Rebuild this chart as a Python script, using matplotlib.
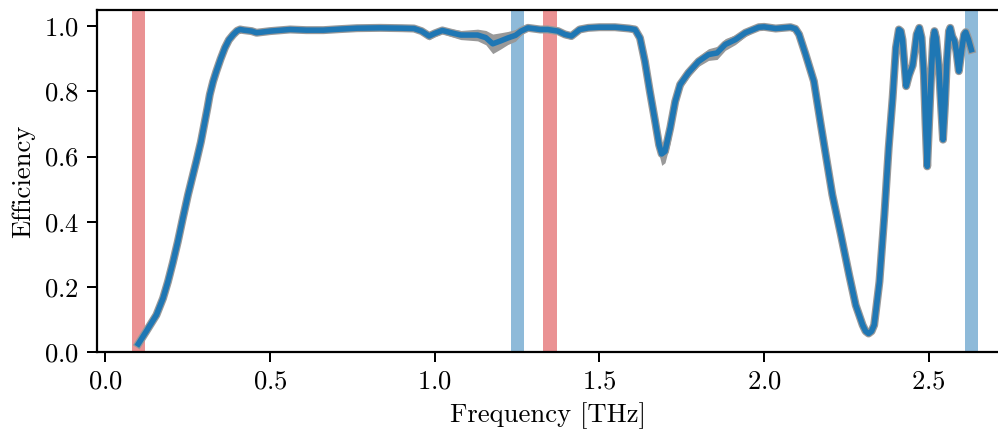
import numpy as np
from matplotlib import pyplot as plt

plt.rcParams["font.family"] = "serif"
plt.rcParams["font.serif"] = ["cmr10", "DejaVu Serif"]
plt.rcParams["mathtext.fontset"] = "cm"
plt.rcParams["axes.formatter.use_mathtext"] = True
plt.rcParams["font.size"] = 12

# frequency [THz], efficiency and half-width of the grey measurement spread,
# read off the reference, in four stretches
freq = [0.100, 0.125, 0.155, 0.175, 0.190, 0.205, 0.220, 0.235, 0.251, 0.265,
        0.276, 0.290, 0.302, 0.310, 0.317, 0.327, 0.337, 0.350, 0.363, 0.375,
        0.388, 0.400, 0.409, 0.420, 0.444, 0.459,
        0.500, 0.561, 0.610, 0.662, 0.710, 0.764, 0.835, 0.900, 0.937, 0.960,
        0.983, 1.000, 1.023, 1.050, 1.079, 1.105, 1.130, 1.155, 1.176, 1.200,
        1.222, 1.245, 1.262, 1.283, 1.320, 1.343, 1.374, 1.395, 1.415, 1.440,
        1.466,
        1.500, 1.547, 1.590, 1.608, 1.623, 1.638, 1.653, 1.669, 1.681, 1.689,
        1.699, 1.715, 1.730, 1.745, 1.770, 1.801, 1.831, 1.857, 1.882, 1.913,
        1.943, 1.984, 2.000, 2.035, 2.080, 2.095, 2.106, 2.126, 2.151, 2.172,
        2.187, 2.207, 2.233, 2.258, 2.278, 2.299, 2.308, 2.317, 2.326, 2.334,
        2.350, 2.365, 2.378, 2.390, 2.400,
        2.409, 2.415, 2.420, 2.426, 2.431, 2.440, 2.451, 2.456, 2.463, 2.471,
        2.478, 2.485, 2.490, 2.495, 2.500, 2.507, 2.513, 2.517, 2.522, 2.530,
        2.537, 2.543, 2.549, 2.555, 2.561, 2.565, 2.571, 2.578, 2.584, 2.591,
        2.600, 2.607, 2.612, 2.620, 2.629]
eff = [0.025, 0.065, 0.114, 0.165, 0.216, 0.275, 0.339, 0.410, 0.483, 0.540,
       0.585, 0.645, 0.708, 0.750, 0.790, 0.830, 0.862, 0.900, 0.934, 0.958,
       0.974, 0.986, 0.990, 0.988, 0.985, 0.980,
       0.985, 0.990, 0.988, 0.988, 0.991, 0.994, 0.995, 0.994, 0.993, 0.985,
       0.970, 0.978, 0.987, 0.980, 0.973, 0.973, 0.973, 0.965, 0.946, 0.955,
       0.964, 0.972, 0.985, 0.995, 0.990, 0.990, 0.985, 0.975, 0.970, 0.990,
       0.995,
       0.997, 0.997, 0.993, 0.990, 0.964, 0.892, 0.800, 0.708, 0.636, 0.608,
       0.616, 0.688, 0.769, 0.821, 0.857, 0.892, 0.913, 0.918, 0.944, 0.959,
       0.980, 0.997, 0.998, 0.993, 0.997, 0.992, 0.975, 0.913, 0.831, 0.698,
       0.606, 0.483, 0.360, 0.237, 0.144, 0.083, 0.064, 0.057, 0.064, 0.083,
       0.216, 0.421, 0.626, 0.780, 0.934,
       0.990, 0.985, 0.959, 0.880, 0.816, 0.850, 0.880, 0.918, 0.975, 0.995,
       0.965, 0.850, 0.700, 0.570, 0.690, 0.850, 0.960, 0.985, 0.965, 0.880,
       0.760, 0.652, 0.760, 0.900, 0.985, 0.995, 0.969, 0.955, 0.920, 0.862,
       0.930, 0.975, 0.982, 0.960, 0.928]
spread = [0.004, 0.006, 0.010, 0.012, 0.015, 0.018, 0.022, 0.028, 0.030, 0.028,
          0.025, 0.022, 0.020, 0.018, 0.016, 0.015, 0.014, 0.012, 0.010, 0.008,
          0.007, 0.006, 0.006, 0.006, 0.007, 0.008,
          0.006, 0.005, 0.005, 0.005, 0.004, 0.004, 0.004, 0.005, 0.006, 0.008,
          0.012, 0.010, 0.010, 0.012, 0.014, 0.016, 0.018, 0.022, 0.030, 0.025,
          0.020, 0.018, 0.012, 0.006, 0.006, 0.006, 0.008, 0.010, 0.010, 0.006,
          0.004,
          0.004, 0.004, 0.004, 0.005, 0.008, 0.012, 0.018, 0.025, 0.030, 0.035,
          0.035, 0.045, 0.030, 0.018, 0.015, 0.015, 0.018, 0.020, 0.018, 0.015,
          0.012, 0.006, 0.004, 0.004, 0.004, 0.005, 0.006, 0.010, 0.015, 0.020,
          0.020, 0.018, 0.015, 0.015, 0.012, 0.010, 0.008, 0.008, 0.008, 0.008,
          0.008, 0.008, 0.008, 0.008, 0.006,
          0.005, 0.005, 0.005, 0.005, 0.005, 0.005, 0.005, 0.005, 0.005, 0.005,
          0.005, 0.005, 0.005, 0.005, 0.005, 0.005, 0.005, 0.005, 0.005, 0.005,
          0.005, 0.005, 0.005, 0.005, 0.005, 0.005, 0.005, 0.005, 0.005, 0.005,
          0.005, 0.005, 0.005, 0.005, 0.005]

red_bands = [0.10, 1.35]
blue_bands = [1.25, 2.63]
band_halfwidth = 0.02

freq = np.array(freq)
eff = np.array(eff)
spread = np.array(spread)

fig = plt.figure(figsize=(998 / 160, 432 / 160), dpi=160)
ax = fig.add_axes([0.097, 0.185, 0.905, 0.792])

for c in red_bands:
    ax.axvspan(c - band_halfwidth, c + band_halfwidth, color="tab:red", alpha=0.5, lw=0)
for c in blue_bands:
    ax.axvspan(c - band_halfwidth, c + band_halfwidth, color="tab:blue", alpha=0.5, lw=0)

ax.fill_between(freq, eff - spread, eff + spread, color="0.6", lw=0)
ax.plot(freq, eff, color="0.6", lw=3.6)
ax.plot(freq, eff, color="tab:blue", lw=2.5)

ax.set_xlim(-0.026, 2.716)
ax.set_ylim(0, 1.05)
ax.set_xticks([0.0, 0.5, 1.0, 1.5, 2.0, 2.5])
ax.set_yticks([0.0, 0.2, 0.4, 0.6, 0.8, 1.0])
ax.spines["right"].set_visible(False)
ax.tick_params(width=0.9, length=4.5)
for s in ["left", "bottom", "top"]:
    ax.spines[s].set_linewidth(1.0)

ax.set_xlabel("Frequency [THz]")
ax.set_ylabel("Efficiency")

plt.savefig("out.png")
